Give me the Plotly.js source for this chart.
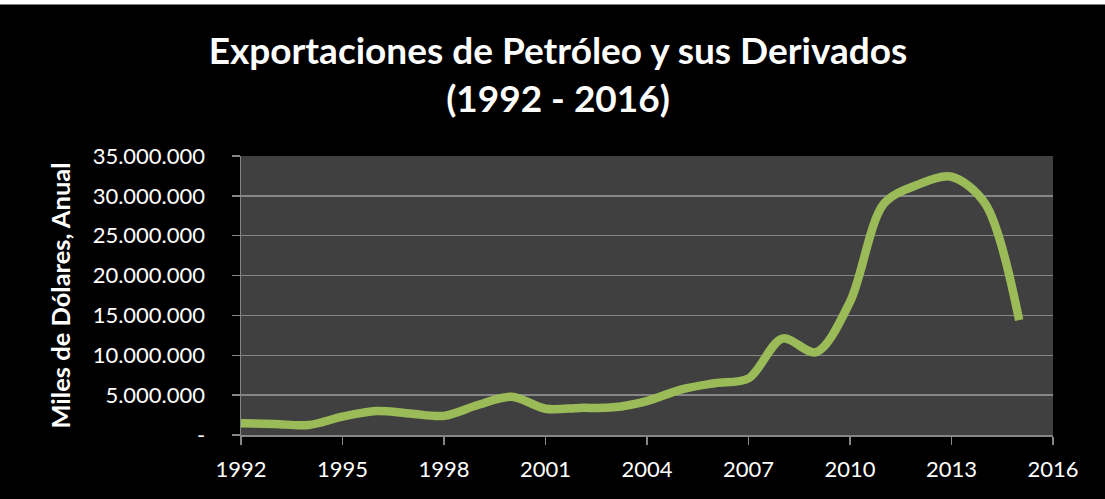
<!DOCTYPE html>
<html>
<head>
<meta charset="utf-8">
<script src="https://cdn.plot.ly/plotly-3.0.1.min.js"></script>
<style>
html,body{margin:0;padding:0;background:#000;}
#chart{width:1105px;height:499px;}
</style>
</head>
<body>
<div id="chart"></div>
<script>
// Data (miles de dólares, anual)
const years = [1992,1993,1994,1995,1996,1997,1998,1999,2000,2001,2002,2003,2004,2005,2006,2007,2008,2009,2010,2011,2012,2013,2014,2015];
const exportaciones = [1470000,1380000,1250000,2300000,3000000,2700000,2400000,3760000,4800000,3300000,3400000,3470000,4260000,5700000,6500000,7100000,12100000,10400000,16700000,29000000,31400000,32400000,29000000,14400000];
const yTickVals = [0,5000000,10000000,15000000,20000000,25000000,30000000,35000000];
const yTickText = ["-","5.000.000","10.000.000","15.000.000","20.000.000","25.000.000","30.000.000","35.000.000"];
const xTickVals = [1992,1995,1998,2001,2004,2007,2010,2013,2016];
const xTickText = ["1992","1995","1998","2001","2004","2007","2010","2013","2016"];

const FONT = "Lato, 'Open Sans', sans-serif";

const trace = {
  x: years,
  y: exportaciones,
  type: "scatter",
  mode: "lines",
  line: {color: "#9BBB59", width: 8.5, shape: "spline", smoothing: 0.9},
  hoverinfo: "x+y",
  showlegend: false
};

const layout = {
  width: 1105,
  height: 499,
  paper_bgcolor: "#000000",
  plot_bgcolor: "#404040",
  margin: {l: 241, r: 52, t: 156, b: 64},
  font: {family: FONT, color: "#ffffff"},
  title: {
    text: "<b>Exportaciones de Petróleo y sus Derivados<br>(1992 - 2016)</b>",
    font: {family: FONT, size: 37, color: "#ffffff"},
    x: 0.505, xanchor: "center",
    y: 0.872, yanchor: "middle", yref: "container"
  },
  xaxis: {
    range: [1992, 2016],
    tickvals: xTickVals,
    ticktext: xTickText,
    ticks: "outside",
    ticklen: 8,
    tickwidth: 1.5,
    tickcolor: "#868686",
    showline: true,
    linecolor: "#868686",
    linewidth: 1.5,
    showgrid: false,
    zeroline: false,
    tickfont: {family: FONT, size: 22, color: "#ffffff"},
    ticklabelstandoff: 6,
    fixedrange: true
  },
  yaxis: {
    range: [0, 35000000],
    tickvals: yTickVals,
    ticktext: yTickText,
    ticks: "outside",
    ticklen: 8,
    tickwidth: 1.5,
    tickcolor: "#868686",
    showline: true,
    linecolor: "#868686",
    linewidth: 1.5,
    showgrid: true,
    gridcolor: "#868686",
    gridwidth: 1.5,
    zeroline: false,
    tickfont: {family: FONT, size: 22, color: "#ffffff"},
    ticklabelstandoff: 22,
    title: {
      text: "<b>Miles de Dólares, Anual</b>",
      font: {family: FONT, size: 25.5, color: "#ffffff"},
      standoff: 14
    },
    fixedrange: true
  },
  shapes: [
    {type: "rect", xref: "paper", yref: "paper", x0: -1, x1: 2, y0: 1.543, y1: 1.6, fillcolor: "#ffffff", line: {width: 0}, layer: "below"}
  ]
};

Plotly.newPlot("chart", [trace], layout, {displayModeBar: false, staticPlot: true});
</script>
</body>
</html>
